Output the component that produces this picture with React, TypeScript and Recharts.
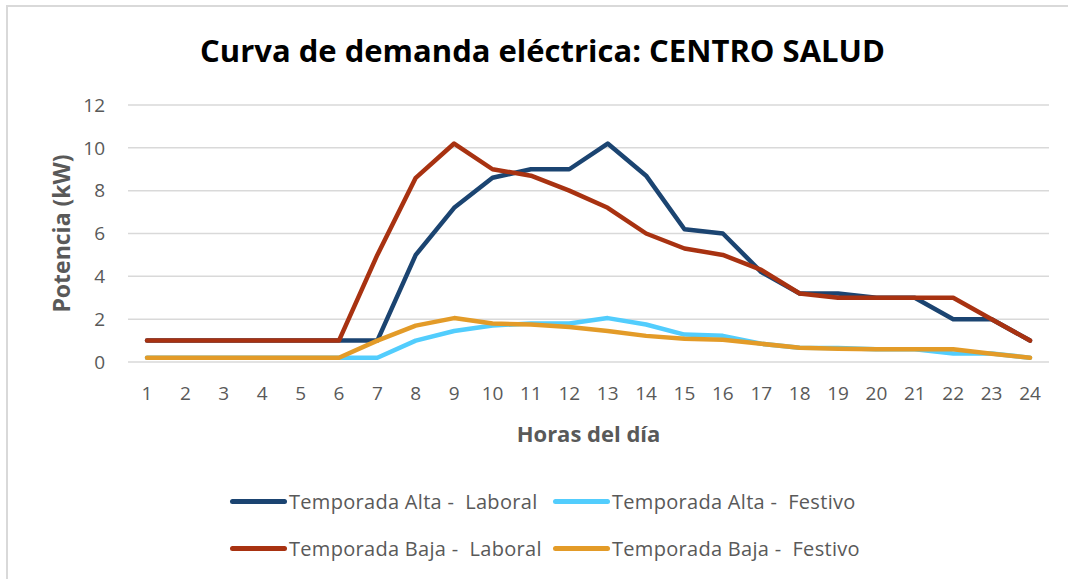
import React from 'react';
import { LineChart, Line, XAxis, YAxis, CartesianGrid } from 'recharts';

const hours = ['1','2','3','4','5','6','7','8','9','10','11','12','13','14','15','16','17','18','19','20','21','22','23','24'];
const altaLaboral = [1,1,1,1,1,1,1,5,7.2,8.6,9,9,10.2,8.7,6.2,6,4.2,3.2,3.2,3,3,2,2,1];
const altaFestivo = [0.2,0.2,0.2,0.2,0.2,0.2,0.2,1,1.45,1.7,1.8,1.8,2.05,1.75,1.28,1.22,0.85,0.67,0.65,0.6,0.6,0.4,0.4,0.2];
const bajaLaboral = [1,1,1,1,1,1,5,8.6,10.2,9,8.7,8,7.2,6,5.3,5,4.3,3.2,3,3,3,3,2,1];
const bajaFestivo = [0.2,0.2,0.2,0.2,0.2,0.2,1,1.7,2.05,1.8,1.75,1.63,1.45,1.22,1.09,1.04,0.85,0.67,0.62,0.6,0.6,0.6,0.39,0.2];
const yTicks = [0,2,4,6,8,10,12];

const seriesNames = ['Temporada Alta -  Laboral','Temporada Alta -  Festivo','Temporada Baja -  Laboral','Temporada Baja -  Festivo'];
const seriesKeys = ['altaLaboral','altaFestivo','bajaLaboral','bajaFestivo'];
const seriesColors = ['#1b4471','#52cdfd','#a83211','#e39b28'];
const seriesValues = [altaLaboral, altaFestivo, bajaLaboral, bajaFestivo];

const data = hours.map((h, i) => {
  const row: any = { hour: h };
  seriesKeys.forEach((k, s) => { row[k] = seriesValues[s][i]; });
  return row;
});

const FONT = '"Open Sans", sans-serif';
const GRAY = '#595959';

const XTitle = (props: any) => {
  const vb = props.viewBox;
  return (
    <text x={vb.x + vb.width / 2} y={vb.y + 71} textAnchor="middle" dominantBaseline="central"
      fontFamily={FONT} fontWeight={700} fontSize={22} fill={GRAY}>Horas del día</text>
  );
};

const YTitle = (props: any) => {
  const vb = props.viewBox;
  const cx = vb.x + 61;
  const cy = vb.y + vb.height / 2;
  return (
    <text x={cx} y={cy} transform={`rotate(-90 ${cx} ${cy})`} textAnchor="middle" dominantBaseline="central"
      fontFamily={FONT} fontWeight={700} fontSize={23} fill={GRAY}>Potencia (kW)</text>
  );
};

const legendRows = [[0, 1], [2, 3]];
const legendCols = [230, 553];
const legendRowY = [501, 548];

export default function App() {
  return (
    <div style={{ position: 'absolute', left: 0, top: 0, width: 1068, height: 579, overflow: 'hidden', background: '#fff', fontFamily: FONT }}>
      <div style={{ position: 'absolute', left: 6, top: 5, width: 1080, height: 600, border: '2px solid #d9d9d9', boxSizing: 'border-box' }} />
      <div style={{ position: 'absolute', left: 0, top: 27, width: 1085, textAlign: 'center', fontSize: 31, fontWeight: 700, color: '#000', lineHeight: '46px' }}>
        Curva de demanda eléctrica: CENTRO SALUD
      </div>
      <div style={{ position: 'absolute', left: 0, top: 0 }}>
        <LineChart width={1068} height={579} data={data} margin={{ top: 105, right: 19, bottom: 0, left: 0 }}>
          <CartesianGrid vertical={false} stroke="#d9d9d9" strokeWidth={1.5} />
          <XAxis dataKey="hour" padding={{ left: 19, right: 19 }} axisLine={false} tickLine={false} tickSize={0} tickMargin={25}
            height={217} interval={0} tick={{ fill: GRAY, fontSize: 19, fontFamily: FONT }} label={<XTitle />} />
          <YAxis domain={[0, 12]} ticks={yTicks} width={128} axisLine={false} tickLine={false} tickSize={0} tickMargin={23}
            tick={{ fill: GRAY, fontSize: 19, fontFamily: FONT }} label={<YTitle />} />
          {seriesKeys.map((k, s) => (
            <Line key={k} type="linear" dataKey={k} name={seriesNames[s]} stroke={seriesColors[s]} strokeWidth={4.5}
              strokeLinecap="round" strokeLinejoin="round" dot={false} activeDot={false} isAnimationActive={false} />
          ))}
        </LineChart>
      </div>
      {legendRows.map((row, r) => row.map((s, c) => (
        <div key={s} style={{ position: 'absolute', left: legendCols[c], top: legendRowY[r] - 14, height: 28, display: 'flex', alignItems: 'center' }}>
          <div style={{ width: 57, height: 5, borderRadius: 3, background: seriesColors[s] }} />
          <span style={{ marginLeft: 2, fontSize: 20, letterSpacing: 0.3, color: GRAY, whiteSpace: 'pre' }}>{seriesNames[s]}</span>
        </div>
      )))}
    </div>
  );
}
